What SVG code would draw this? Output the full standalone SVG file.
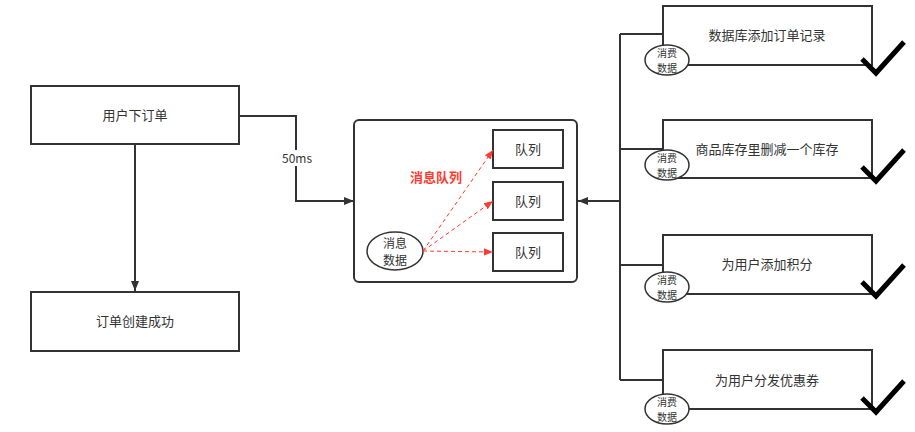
<svg xmlns="http://www.w3.org/2000/svg" width="915" height="432" viewBox="0 0 915 432">
<defs>
<style>
.box{fill:#fff;stroke:#333;stroke-width:2}
.t{font-family:"Noto Sans CJK SC","Liberation Sans",sans-serif;font-size:13px;fill:#333;text-anchor:middle}
.s{font-family:"Noto Sans CJK SC","Liberation Sans",sans-serif;font-size:12px;fill:#333;text-anchor:middle}
.x{font-family:"Noto Sans CJK SC","Liberation Sans",sans-serif;font-size:10px;fill:#333;text-anchor:middle}
.c{fill:none;stroke:#333;stroke-width:2}
.r{fill:none;stroke:#ff3b30;stroke-width:1;stroke-dasharray:4 3}
.ck{fill:none;stroke:#000;stroke-width:5}
.el{fill:#fff;stroke:#333;stroke-width:1.5}
</style>
<marker id="ah" viewBox="0 0 10 10" refX="10" refY="5" markerWidth="10" markerHeight="10" markerUnits="userSpaceOnUse" orient="auto"><path d="M0,1 L10,5 L0,9 Z" fill="#333"/></marker>
<marker id="rh" viewBox="0 0 10 10" refX="10" refY="5" markerWidth="9" markerHeight="9" markerUnits="userSpaceOnUse" orient="auto"><path d="M0,1 L10,5 L0,9 Z" fill="#ff3b30"/></marker>
</defs>
<g id="order"><rect class="box" x="31" y="86" width="208" height="58"/><text x="135" y="120" class="t">用户下订单</text></g>
<g id="success"><rect class="box" x="31" y="292" width="208" height="59"/><text x="135" y="326" class="t">订单创建成功</text></g>
<g id="mq">
<rect class="box" x="354" y="120" width="223" height="162" rx="5"/>
<text x="436" y="182" class="t" style="fill:#ff3b30;font-weight:bold">消息队列</text>
</g>
<g id="q1"><rect class="box" x="493" y="130" width="70" height="38"/><text x="528" y="154" class="t">队列</text></g>
<g id="q2"><rect class="box" x="493" y="182" width="70" height="38"/><text x="528" y="206" class="t">队列</text></g>
<g id="q3"><rect class="box" x="493" y="233" width="70" height="38"/><text x="528" y="257" class="t">队列</text></g>
<g id="msg"><ellipse class="el" cx="395" cy="251" rx="28" ry="19"/><text x="395" y="248" class="s">消息</text><text x="395" y="265" class="s">数据</text></g>
<g id="connectors">
<path class="c" d="M135,144 V291" marker-end="url(#ah)"/>
<path class="c" d="M239,116 H296 V201 H354" marker-end="url(#ah)"/>
<rect x="281" y="150" width="32" height="16" fill="#fff"/>
<text x="297" y="163" class="s">50ms</text>
<path class="c" d="M620,201 H578" marker-end="url(#ah)"/>
<path class="c" d="M620,34 V380 M620,34 H663 M620,149 H663 M620,265 H663 M620,380 H663"/>
<path class="r" d="M423,251 L493,150" marker-end="url(#rh)"/>
<path class="r" d="M423,251 L493,201" marker-end="url(#rh)"/>
<path class="r" d="M423,251 L493,252" marker-end="url(#rh)"/>
</g>
<g id="c1"><rect class="box" x="663" y="6" width="209" height="59"/><text x="767" y="40" class="t">数据库添加订单记录</text>
<ellipse class="el" cx="667" cy="60" rx="22" ry="15"/><text x="667" y="57" class="x">消费</text><text x="667" y="72" class="x">数据</text>
<path class="ck" d="M862,59 L876,73 L904,42"/></g>
<g id="c2"><rect class="box" x="663" y="120" width="209" height="58"/><text x="767" y="154" class="t">商品库存里删减一个库存</text>
<ellipse class="el" cx="667" cy="165" rx="22" ry="15"/><text x="667" y="162" class="x">消费</text><text x="667" y="177" class="x">数据</text>
<path class="ck" d="M862,167 L876,181 L904,150"/></g>
<g id="c3"><rect class="box" x="663" y="235" width="209" height="59"/><text x="767" y="269" class="t">为用户添加积分</text>
<ellipse class="el" cx="667" cy="287" rx="22" ry="15"/><text x="667" y="284" class="x">消费</text><text x="667" y="299" class="x">数据</text>
<path class="ck" d="M862,282 L876,296 L904,265"/></g>
<g id="c4"><rect class="box" x="663" y="350" width="209" height="59"/><text x="767" y="385" class="t">为用户分发优惠券</text>
<ellipse class="el" cx="667" cy="409" rx="22" ry="15"/><text x="667" y="406" class="x">消费</text><text x="667" y="421" class="x">数据</text>
<path class="ck" d="M862,398 L876,412 L904,381"/></g>
</svg>
